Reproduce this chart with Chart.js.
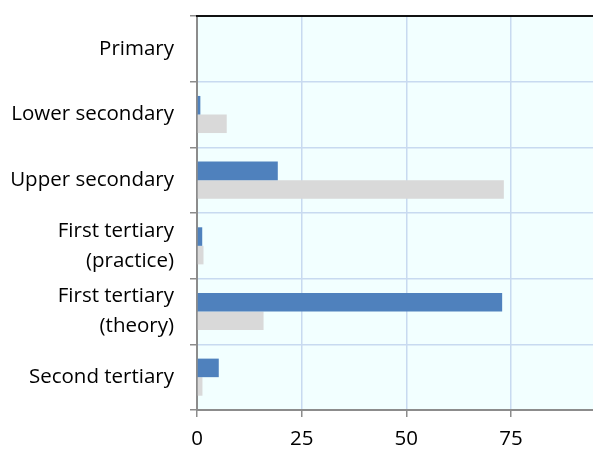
<!DOCTYPE html>
<html>
<head>
<meta charset="utf-8">
<script src="https://cdn.jsdelivr.net/npm/chart.js@4/dist/chart.umd.min.js"></script>
<style>
html,body{margin:0;padding:0;background:#fff;}
#wrap{width:593px;height:450px;position:relative;}
</style>
</head>
<body>
<div id="wrap"><canvas id="c" width="593" height="450"></canvas></div>
<script>
const categories = [
  "Primary",
  "Lower secondary",
  "Upper secondary",
  ["First tertiary", "(practice)"],
  ["First tertiary", "(theory)"],
  "Second tertiary"
];
const seriesBlue = [0, 0.8, 19.3, 1.25, 72.9, 5.2];
const seriesGray = [0, 7.1, 73.3, 1.55, 15.9, 1.3];
const xTicks = [0, 25, 50, 75];

const plotBg = {
  id: 'plotBg',
  beforeDraw(chart) {
    const {ctx, chartArea: a} = chart;
    ctx.save();
    ctx.fillStyle = '#F2FFFF';
    ctx.fillRect(a.left, a.top, a.right - a.left, a.bottom - a.top);
    ctx.restore();
  },
  afterDraw(chart) {
    const {ctx, chartArea: a} = chart;
    ctx.save();
    ctx.strokeStyle = '#111';
    ctx.lineWidth = 2;
    ctx.beginPath();
    ctx.moveTo(a.left - 1, a.top);
    ctx.lineTo(a.right, a.top);
    ctx.stroke();
    ctx.restore();
  }
};

new Chart(document.getElementById('c'), {
  type: 'bar',
  data: {
    labels: categories,
    datasets: [
      { label: 'Series 1', data: seriesBlue, backgroundColor: '#4F81BD', categoryPercentage: 0.565, barPercentage: 1 },
      { label: 'Series 2', data: seriesGray, backgroundColor: '#D9D9D9', categoryPercentage: 0.565, barPercentage: 1 }
    ]
  },
  options: {
    indexAxis: 'y',
    responsive: false,
    animation: false,
    layout: { padding: { top: 16, right: 0, left: 0, bottom: 0 } },
    plugins: { legend: { display: false }, tooltip: { enabled: false } },
    scales: {
      x: {
        min: 0,
        max: 94.6,
        afterBuildTicks(scale) { scale.ticks = xTicks.map(v => ({ value: v })); },
        afterFit(scale) { scale.height = 40; scale.paddingLeft = 0; scale.paddingRight = 0; },
        grid: { color: '#C8DAF0', lineWidth: 1.5, tickColor: '#8C8C8C', tickLength: 7, drawTicks: true },
        border: { color: '#8C8C8C', width: 2 },
        ticks: { color: '#000', font: { family: 'Open Sans', size: 20.5 }, padding: 10, maxRotation: 0 }
      },
      y: {
        afterFit(scale) { scale.width = 197; scale.paddingTop = 0; scale.paddingBottom = 0; },
        grid: { color: '#C8DAF0', lineWidth: 1.5, tickColor: '#8C8C8C', tickLength: 7, offset: true },
        border: { color: '#8C8C8C', width: 2 },
        ticks: { color: '#000', font: { family: 'Open Sans', size: 20.5, lineHeight: 1.45 }, padding: 16 }
      }
    }
  },
  plugins: [plotBg]
});
</script>
</body>
</html>
